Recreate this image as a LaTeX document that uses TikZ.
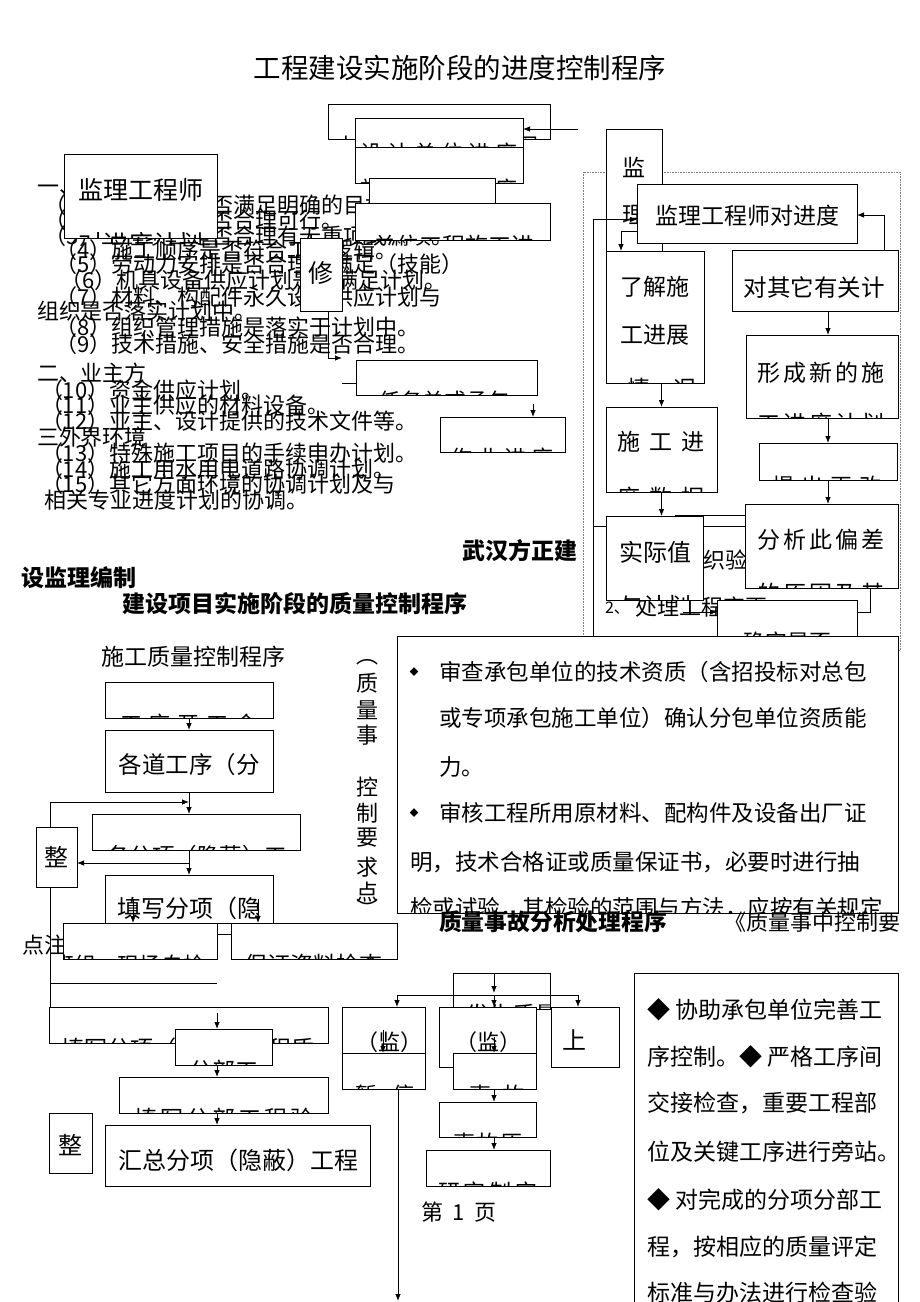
\documentclass[tikz,border=0pt]{standalone}
\usepackage{fontspec}
\setmainfont{Noto Sans CJK SC}
\usetikzlibrary{arrows.meta,calc}
\newcommand\fs[1]{\fontsize{#1}{#1}\selectfont}
\newcommand\mybox[5]{\node[bx,minimum width={(#4-#2)*1pt},minimum height={(#5-#3)*1pt}] (#1) at ({(#2+#4)/2},{(#3+#5)/2}) {};}
\newcommand\cliptext[5][tx]{\begin{scope}\clip (#2.south west) rectangle (#2.north east);\node[#1] at (#3,{#4+2}) {#5};\end{scope}}
\newcommand\gp[1]{\hspace{#1pt}}
\begin{document}
\begin{tikzpicture}[x=1pt,y=-1pt,
 bx/.style={draw,fill=white,line width=0.9pt,inner sep=0pt,outer sep=0pt},
 tx/.style={inner sep=0pt,outer sep=0pt,font=\fs{22}},
 lt/.style={tx,anchor=west},
 bd/.style={tx,font=\fs{23}\bfseries},
 arr/.style={-{Latex[length=7pt,width=5.5pt]},line width=0.8pt},
 ln/.style={line width=0.8pt}]
\useasboundingbox (0,0) rectangle (920,1302);
\fill[white] (0,0) rectangle (920,1302);

% ---------- title ----------
\node[tx,font=\fs{27.5}] (title) at (460,68) {工程建设实施阶段的进度控制程序};

% ---------- list text ----------
\node[lt] (r0) at (37,190) {一、};
\node[lt] (r1) at (45,205) {（1）进度计划是否满足明确的目标工期。};
\node[lt] (r2) at (45,220) {（2）工期安排是否合理可行。};
\node[lt] (r3) at (45,236) {（3）工程项目是否合理有无重项或漏项。};
\node[lt] (r4) at (55,250) {（4）施工顺序是否符合工艺逻辑。};
\node[lt] (r5) at (55,264) {（5）劳动力安排是否合理、满足（技能）};
\node[lt] (r6) at (60,280) {（6）机具设备供应计划是否满足计划。};
\node[lt] (r7) at (55,297) {（7）材料、构配件永久设备供应计划与};
\node[lt] (r7b) at (37,311) {组织是否落实计划中。};
\node[lt] (r8) at (55,327) {（8）组织管理措施是落实于计划中。};
\node[lt] (r9) at (55,344) {（9）技术措施、安全措施是否合理。};
\node[lt] (s0) at (37,373) {二、业主方};
\node[lt] (s1) at (41,390) {（10）资金供应计划。};
\node[lt] (s2) at (41,405) {（11）业主供应的材料设备。};
\node[lt] (s3) at (41,421) {（12）业主、设计提供的技术文件等。};
\node[lt] (t0) at (37,437) {三外界环境};
\node[lt] (t1) at (41,453) {（13）特殊施工项目的手续申办计划。};
\node[lt] (t2) at (41,469) {（14）施工用水用电道路协调计划。};
\node[lt] (t3) at (41,484) {（15）其它方面环境的协调计划及与};
\node[lt] (t4) at (45,500) {相关专业进度计划的协调。};

% ---------- top boxes ----------
\mybox{A}{328}{104}{550}{139}
\cliptext{A}{439}{144}{材料设备供应计划图}
\mybox{B}{355}{118}{523}{147}
\cliptext{B}{439}{151}{设 计 单 位 进 度}
\mybox{C}{355}{147}{523}{183}
\cliptext{C}{439}{187}{施 工 单 位 进 度}
\mybox{D}{369}{178}{495}{215}
\mybox{E}{355}{203}{550}{240}
\cliptext{E}{454}{244}{\fs{23}单位工程施工进}
\mybox{JL}{64}{154}{217}{238}
\node[tx,font=\fs{25}] (jlt) at (141,190) {监理工程师};
\cliptext{JL}{141}{242}{\fs{25}对进度计划}
\mybox{X}{300}{238}{342}{311}
\node[tx,font=\fs{25}] (xt) at (321,273) {修};
\mybox{RW}{356}{360}{537}{395}
\cliptext{RW}{444}{399}{任务单或承包}
\mybox{ZY}{440}{417}{565}{452}
\cliptext{ZY}{502}{456}{作 业 进 度}

\coordinate (ina) at (578,129);
\draw[arr] (ina) -- (ina -| B.east);
\coordinate (xa) at (342,358);
\draw[arr] ([xshift=7pt]X.south) |- (xa);
\coordinate (rwl) at (342,383);
\draw[ln] (rwl) -- (RW.west |- rwl);
\coordinate (zya) at (533,404);
\draw[arr] (zya) -- (ZY.north -| zya);

% ---------- bold labels ----------
\node[bd] (wh) at (520,551) {武汉方正建};
\node[bd] (sjb) at (79,578) {设监理编制};
\node[bd] (zlt) at (295,604) {建设项目实施阶段的质量控制程序};

% ---------- right panel ----------
\draw[densely dotted,gray,line width=0.6pt] (583,172) rectangle (900,650);
\coordinate (hb) at (593,526);
\draw[ln] (746,526) -- (hb) -- (593,700);
\draw[ln] (675,515) -- (746,515);
\node[lt] (zy1) at (647,560) {1、组织验收};
\node[lt,font=\fs{16}] (cl1) at (605,608) {2、};
\node[lt] (cl2) at (635,607) {处理工程变更};

\mybox{JIAN}{606}{129}{662}{300}
\node[tx,font=\fs{23}] (jian1t) at (634,167) {监};
\node[tx,font=\fs{23}] (jian2t) at (634,215) {理};
\mybox{JLDS}{637}{184}{857}{243}
\node[tx,font=\fs{23}] (jldst) at (747,216) {监理工程师对进度};
\mybox{LJ}{606}{251}{704}{383}
\node[tx,font=\fs{23}] (ljt1) at (655,287) {了解施};
\node[tx,font=\fs{23}] (ljt2) at (655,335) {工进展};
\cliptext{LJ}{662}{387}{\fs{23}情　况}
\mybox{SG}{606}{407}{717}{492}
\node[tx,font=\fs{23}] (sgt) at (661,442) {施\gp{9}工\gp{9}进};
\cliptext{SG}{661}{496}{\fs{23}度\gp{9}数\gp{9}据}
\mybox{SJ}{606}{516}{703}{600}
\node[tx,font=\fs{24}] (sjt) at (655,552) {实际值};
\cliptext{SJ}{655}{604}{\fs{24}与计划}
\mybox{DQ}{732}{250}{898}{311}
\node[tx,font=\fs{23.5}] (dqt) at (814,287) {对其它有关计};
\mybox{XC}{746}{335}{898}{418}
\node[tx,font=\fs{23}] (xct) at (821,373) {形\gp{3}成\gp{3}新\gp{3}的\gp{3}施};
\cliptext{XC}{821}{422}{\fs{23}工\gp{3}进\gp{3}度\gp{3}计\gp{3}划}
\mybox{TC}{759}{443}{897}{480}
\cliptext{TC}{827}{484}{提\gp{7}出\gp{7}再\gp{7}改}
\mybox{FX}{745}{504}{898}{588}
\node[tx,font=\fs{23}] (fxt) at (821,540) {分\gp{3}析\gp{3}此\gp{3}偏\gp{3}差};
\cliptext{FX}{821}{592}{\fs{23}的\gp{3}原\gp{3}因\gp{3}及\gp{3}其}
\mybox{QD}{717}{600}{857}{660}
\node[tx] (qdt) at (787,642) {确定是否};

\draw[arr] (LJ.south -| SG.north) -- (SG.north);
\draw[arr] (SG.south) -- (SJ.north -| SG.south);
\draw[arr] (DQ.south -| 828,0) -- (XC.north -| 828,0);
\draw[arr] (XC.south -| 828,0) -- (TC.north -| 828,0);
\draw[arr] (TC.south -| 828,0) -- (FX.north -| 828,0);
\draw[ln] (FX.south -| 870,0) |- ([yshift=18pt]QD.east);
\coordinate (qdin) at (683,612);
\draw[arr] (qdin) -- (QD.west |- qdin);
\draw[arr] (DQ.north -| 884,0) |- ([yshift=-1.5pt]JLDS.east);
\draw[arr] (hb) |- ([yshift=-6pt]JLDS.west);
\draw[arr] ([yshift=-18pt]JLDS.west) -| (LJ.north -| 621,0);

% ---------- big text box ----------
\mybox{BB}{397}{636}{898}{913}
\node[tx,font=\fs{9}] (b1) at (414,672) {◆};
\node[lt,font=\fs{22.5}] (bl1) at (439,672) {审查承包单位的技术资质（含招投标对总包};
\node[lt,font=\fs{22.5}] (bl2) at (439,718) {或专项承包施工单位）确认分包单位资质能};
\node[lt,font=\fs{22.5}] (bl3) at (439,767) {力。};
\node[tx,font=\fs{9}] (b2) at (414,813) {◆};
\node[lt,font=\fs{22.5}] (bl4) at (439,813) {审核工程所用原材料、配构件及设备出厂证};
\node[lt,font=\fs{22.5}] (bl5) at (410,862) {明，技术合格证或质量保证书，必要时进行抽};
\cliptext[lt]{BB}{410}{906}{\fs{22.5}检或试验，其检验的范围与方法，应按有关规定};

\node[lt,font=\fs{22.8}\bfseries] (sgfx) at (439,922) {质量事故分析处理程序};
\node[lt] (zlsz) at (724,922) {《质量事中控制要};

% ---------- vertical label ----------
\foreach \c/\yy in {︵/662,质/683,量/710,事/735,控/787,制/813,要/838,求/867,点/892,︶/908}
  \node[tx] (v\yy) at (367,\yy) {\c};

% ---------- quality control flow ----------
\node[tx,font=\fs{23}] (sgzl) at (193,657) {施工质量控制程序};
\node[lt] (dz) at (22,945) {点注};
\mybox{GX}{105}{682}{273}{718}
\cliptext{GX}{189}{722}{工\gp{7}序\gp{7}开\gp{7}工\gp{7}令}
\mybox{GD}{105}{730}{273}{792}
\node[tx,font=\fs{23.5}] (gdt) at (189,765) {各道工序（分};
\mybox{GFX}{92}{814}{300}{850}
\cliptext{GFX}{197}{854}{\fs{22.5}各分项（隐蔽）工}
\mybox{ZH1}{36}{827}{77}{887}
\node[tx,font=\fs{24}] (zh1t) at (56,857) {整};
\mybox{TX}{105}{875}{273}{923}
\node[tx,font=\fs{24}] (txt) at (189,908) {填写分项（隐};
\mybox{BZ}{63}{923}{217}{959}
\cliptext[lt]{BZ}{52}{963}{班组　现场自检}
\mybox{BZZL}{231}{923}{397}{959}
\cliptext{BZZL}{313}{963}{\fs{23}保证资料检查}
\mybox{TXFX}{49}{1007}{328}{1043}
\cliptext{TXFX}{188}{1047}{\fs{23}填写分项（隐蔽）工程质}
\mybox{FB}{175}{1029}{272}{1065}
\cliptext{FB}{224}{1069}{\fs{23}分部工}
\mybox{TXFB}{119}{1077}{328}{1113}
\cliptext{TXFB}{224}{1117}{\fs{23}填\gp{3}写\gp{3}分\gp{3}部\gp{3}工\gp{3}程\gp{3}验}
\mybox{HZ}{105}{1125}{370}{1186}
\node[tx,font=\fs{24}] (hzt) at (238,1160) {汇总分项（隐蔽）工程};
\mybox{ZH2}{49}{1113}{92}{1173}
\node[tx,font=\fs{24}] (zh2t) at (70,1145) {整};

\draw[arr] (GX.south) -- (GD.north);
\draw[arr] (GD.south) -- (GD.south |- GFX.north);
\draw[arr] (ZH1.north -| 50,0) |- (GD.south |- 0,802);
\draw[arr] (GFX.south -| GD.south) -- (TX.north);
\draw[arr] (TX.north |- 0,863) -- (ZH1.east |- 0,863);
\draw[arr] (TX.center -| 133,0) -- (BZ.north -| 133,0);
\draw[arr] (TX.center -| 258,0) -- (BZZL.north -| 258,0);
\draw[ln] (BZ.east |- 0,934) -- (BZZL.west |- 0,934);
\draw[ln] (ZH1.south -| 50,0) -- (TXFX.north -| 50,0);
\draw[ln] (50,983) -- (217,983);
\draw[arr] (TXFX.north -| 217,0) ++(0,6) -- (FB.north -| 217,0);
\draw[arr] (FB.south -| 217,0) -- (TXFB.north -| 217,0);
\draw[arr] (TXFB.south -| 217,0) -- (HZ.north -| 217,0);

% ---------- accident flow ----------
\mybox{FS}{453}{973}{550}{1009}
\cliptext[lt]{FS}{466}{1013}{\fs{23}发生质量事故}
\mybox{JA}{342}{1007}{425}{1053}
\node[tx] (jat) at (389,1042) {（监）};
\mybox{JB}{439}{1007}{536}{1067}
\node[tx] (jbt) at (488,1042) {（监）};
\mybox{SH}{551}{1007}{619}{1067}
\node[tx,font=\fs{24}] (sht) at (574,1040) {上};
\mybox{ZT}{342}{1053}{425}{1089}
\cliptext{ZT}{385}{1093}{暂\gp{16}停}
\mybox{SGB}{453}{1053}{536}{1089}
\cliptext{SGB}{497}{1093}{事\gp{11}故}
\mybox{SGY}{439}{1102}{536}{1137}
\cliptext{SGY}{488}{1141}{事\gp{2}故\gp{2}原}
\mybox{YJ}{426}{1150}{550}{1186}
\cliptext{YJ}{488}{1190}{研\gp{4}究\gp{4}制\gp{4}定}

\draw[arr] (FS.north -| 494,0) -- (494,993);
\draw[ln] (397,995) -- (578,995);
\draw[arr] (397,995) -- (JA.north -| 397,0);
\draw[arr] (494,995) -- (JB.north -| 494,0);
\draw[arr] (578,995) -- (SH.north -| 578,0);
\draw[arr] (JA.center -| 383,0) -- (ZT.north -| 383,0);
\draw[arr] (JB.center -| 494,0) -- (SGB.north -| 494,0);
\draw[arr] (SGB.south -| 494,0) -- (SGY.north -| 494,0);
\draw[arr] (SGY.south -| 494,0) -- (YJ.north -| 494,0);
\coordinate (endp) at (398,1301);
\draw[arr] (ZT.south -| endp) -- (endp);

\node[tx] (page) at (459,1212) {第\gp{9}1\gp{9}页};

% ---------- right bottom box ----------
\mybox{RB}{634}{973}{898}{1330}
\node[lt,font=\fs{23}] (rb1) at (647,1010) {◆ 协助承包单位完善工};
\node[lt,font=\fs{23}] (rb2) at (647,1057) {序控制。◆ 严格工序间};
\node[lt,font=\fs{23}] (rb3) at (647,1103) {交接检查，重要工程部};
\node[lt,font=\fs{23}] (rb4) at (647,1152) {位及关键工序进行旁站。};
\node[lt,font=\fs{23}] (rb5) at (647,1200) {◆ 对完成的分项分部工};
\node[lt,font=\fs{23}] (rb6) at (647,1247) {程，按相应的质量评定};
\node[lt,font=\fs{23}] (rb7) at (647,1293) {标准与办法进行检查验};
\end{tikzpicture}
\end{document}
